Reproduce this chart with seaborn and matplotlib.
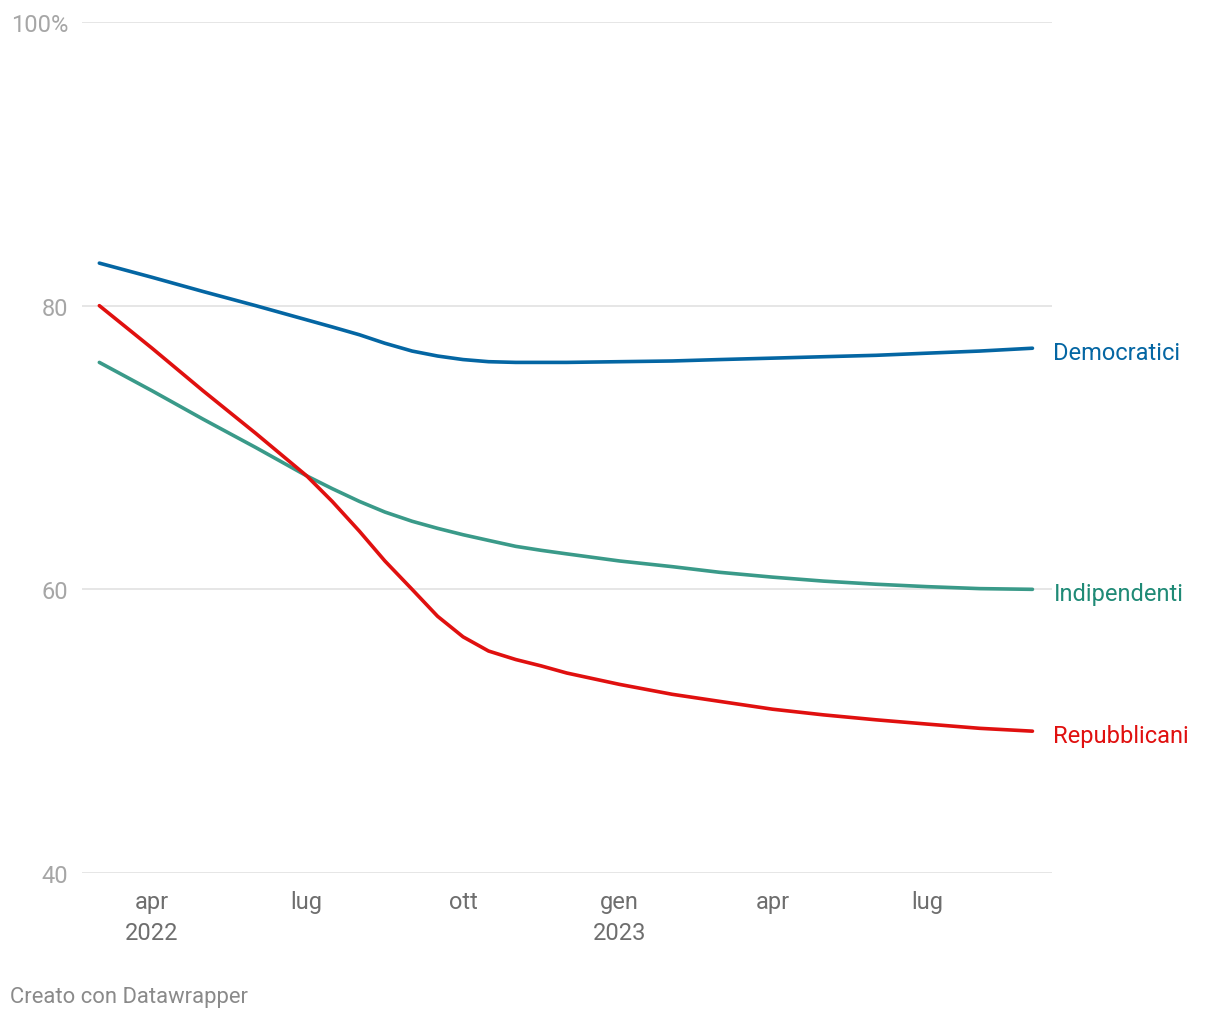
import matplotlib
matplotlib.use("Agg")
import matplotlib.pyplot as plt
import seaborn as sns
import pandas as pd

# ---- data ----
dates = pd.to_datetime([
    "2022-03-01", "2022-04-01", "2022-05-01", "2022-06-01", "2022-07-01",
    "2022-07-16", "2022-08-01", "2022-08-16", "2022-09-01", "2022-09-16",
    "2022-10-01", "2022-10-16", "2022-11-01", "2022-11-16", "2022-12-01",
    "2023-01-01", "2023-02-01", "2023-03-01", "2023-04-01", "2023-05-01",
    "2023-06-01", "2023-07-01", "2023-08-01", "2023-09-01"])
democratici = [83.0, 82.0, 81.0, 80.0, 79.0,
               78.5, 77.95, 77.35, 76.8, 76.45,
               76.2, 76.05, 76.0, 76.0, 76.0,
               76.05, 76.1, 76.2, 76.3, 76.4,
               76.5, 76.65, 76.8, 77.0]
indipendenti = [76.0, 74.0, 72.0, 70.0, 68.0,
                67.1, 66.2, 65.45, 64.8, 64.3,
                63.85, 63.45, 63.03, 62.75, 62.5,
                62.0, 61.6, 61.2, 60.86, 60.58,
                60.36, 60.19, 60.05, 60.0]
repubblicani = [80.0, 77.0, 74.0, 71.0, 68.0,
                66.2, 64.1, 62.0, 60.0, 58.1,
                56.65, 55.65, 55.05, 54.6, 54.1,
                53.3, 52.6, 52.1, 51.55, 51.15,
                50.8, 50.5, 50.2, 50.0]
series_names = ["Democratici", "Indipendenti", "Repubblicani"]
tick_dates = pd.to_datetime(["2022-04-01", "2022-07-01", "2022-10-01",
                             "2023-01-01", "2023-04-01", "2023-07-01"])
tick_labels = ["apr\n2022", "lug", "ott", "gen\n2023", "apr", "lug"]
y_ticks = [40, 60, 80, 100]
y_tick_labels = ["40", "60", "80", "100%"]

line_colors = {"Democratici": "#0466a3", "Indipendenti": "#3a9a89", "Repubblicani": "#e0100f"}
label_colors = {"Democratici": "#0466a3", "Indipendenti": "#1f8a76", "Repubblicani": "#e0100f"}

df = pd.concat([
    pd.DataFrame({"date": dates, "value": democratici, "serie": "Democratici"}),
    pd.DataFrame({"date": dates, "value": indipendenti, "serie": "Indipendenti"}),
    pd.DataFrame({"date": dates, "value": repubblicani, "serie": "Repubblicani"}),
], ignore_index=True)

sns.set_theme(style="white")
plt.rcParams["font.family"] = ["Roboto", "DejaVu Sans"]

fig = plt.figure(figsize=(12.2, 10.2), dpi=100)
ax = fig.add_axes([82 / 1220, 146 / 1020, 970 / 1220, 851 / 1020])

sns.lineplot(data=df, x="date", y="value", hue="serie", palette=line_colors,
             hue_order=series_names, linewidth=2.6, legend=False, ax=ax,
             solid_capstyle="round", solid_joinstyle="round")

# axes limits
x_left = pd.Timestamp("2022-04-01") - pd.Timedelta(days=41.2)
x_right = pd.Timestamp("2023-07-01") + pd.Timedelta(days=73.5)
ax.set_xlim(x_left, x_right)
ax.set_ylim(40, 100)

ax.set_yticks(y_ticks)
ax.set_yticklabels(y_tick_labels)
ax.set_xticks(tick_dates)
ax.set_xticklabels(tick_labels, linespacing=1.45)
ax.set_xlabel("")
ax.set_ylabel("")

ax.yaxis.grid(True, color="#e4e4e4", linewidth=1.3)
ax.xaxis.grid(False)
ax.set_axisbelow(True)
for s in ax.spines.values():
    s.set_visible(False)

ax.tick_params(axis="y", length=0, pad=10, labelsize=17, labelcolor="#a6a6a6")
ax.tick_params(axis="x", length=0, pad=12, labelsize=17, labelcolor="#6e6e6e")

# end-of-line labels
for name, vals in zip(series_names, [democratici, indipendenti, repubblicani]):
    ax.annotate(name, xy=(dates[-1], vals[-1]), xytext=(21, -4),
                textcoords="offset pixels", ha="left", va="center",
                fontsize=17, color=label_colors[name], annotation_clip=False)

fig.text(10 / 1220, 1 - 998 / 1020, "Creato con Datawrapper", ha="left",
         va="center", fontsize=15.8, color="#8a8a8a")

fig.savefig("out.png", dpi=100)
